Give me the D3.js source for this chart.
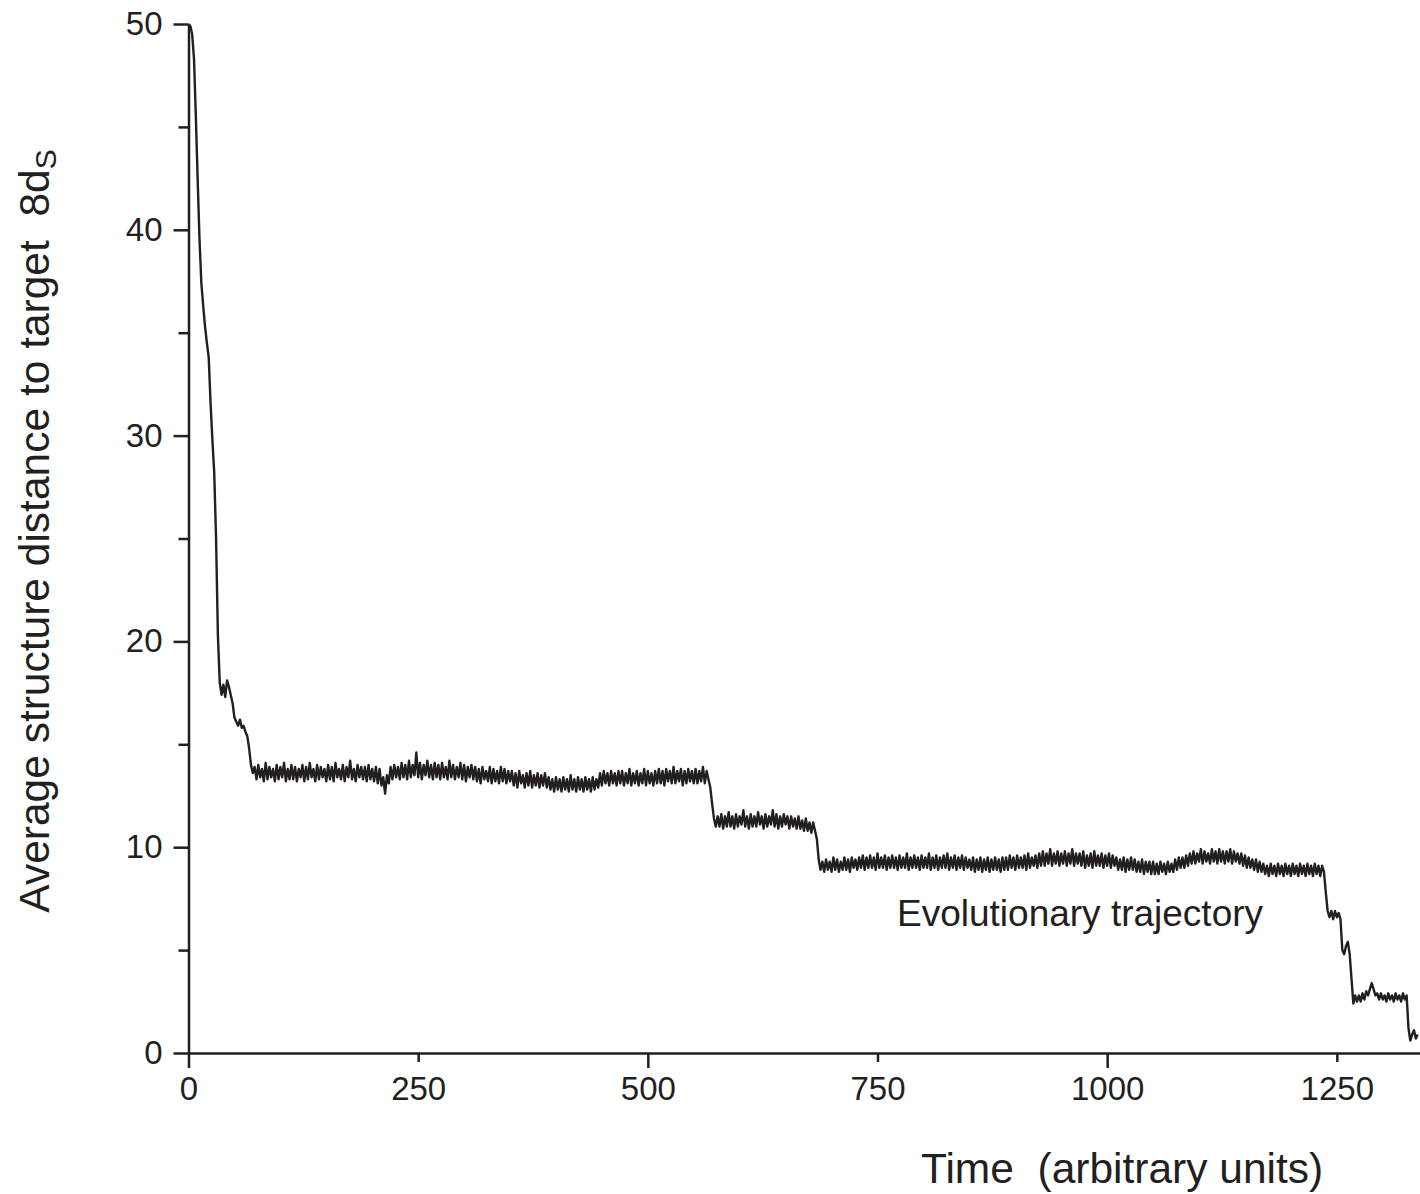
<!DOCTYPE html>
<html>
<head>
<meta charset="utf-8">
<script src="https://cdn.jsdelivr.net/npm/d3@7"></script>
<style>
  body { margin: 0; background: #fff; }
  svg { display: block; font-family: "Liberation Sans", Arial, sans-serif; }
</style>
</head>
<body>
<div id="chart"></div>
<script>
const timeStep = 2;

// t = 0 .. 70
const descent = [50.0,49.9,49.5,48.3,45.5,42.4,39.5,37.4,36.3,35.3,34.5,33.8,31.6,29.8,28.2,25.0,20.3,18.0,17.4,17.9,
  17.3,18.1,17.8,17.4,17.0,16.3,16.1,15.9,16.2,15.8,15.9,15.6,15.4,14.8,14.0,13.6];

// t = 72 .. 574
const plateau13 = [13.9,13.3,14.0,13.4,13.8,13.2,14.1,13.3,13.9,13.4,13.8,13.2,14.0,13.3,13.9,13.4,14.1,13.2,13.8,13.3,
  14.0,13.3,13.9,13.2,13.8,13.4,14.0,13.2,13.9,13.3,14.1,13.4,13.8,13.2,14.0,13.3,13.9,13.4,13.8,13.2,
  14.0,13.3,13.9,13.2,14.1,13.4,13.8,13.3,14.0,13.2,13.9,13.4,14.2,13.3,13.8,13.2,14.0,13.4,13.9,13.3,
  13.9,13.2,14.0,13.3,13.8,13.2,13.9,13.1,13.8,13.0,13.4,12.6,13.5,13.1,13.9,13.3,14.0,13.4,13.9,13.3,
  14.1,13.4,14.0,13.3,14.2,13.4,14.0,13.5,14.6,13.4,14.1,13.3,14.0,13.5,14.2,13.4,14.0,13.3,14.1,13.4,
  14.0,13.3,14.1,13.4,13.9,13.3,14.2,13.4,14.0,13.3,13.9,13.4,14.1,13.3,14.0,13.2,13.9,13.4,14.0,13.3,
  13.9,13.2,13.8,13.1,13.9,13.3,13.7,13.2,13.9,13.1,13.8,13.2,13.7,13.1,13.9,13.2,13.8,13.1,13.7,13.2,
  13.7,13.0,13.6,12.9,13.7,13.1,13.5,12.9,13.6,13.0,13.7,12.9,13.5,13.0,13.6,12.9,13.5,13.0,13.6,12.9,
  13.4,12.8,13.3,12.7,13.4,12.8,13.3,12.7,13.4,12.8,13.3,12.7,13.5,12.8,13.3,12.7,13.4,12.8,13.3,12.7,
  13.4,12.8,13.3,12.7,13.4,12.8,13.3,12.9,13.6,13.0,13.7,13.1,13.6,13.0,13.7,13.1,13.6,13.0,13.7,13.1,
  13.7,13.0,13.6,13.1,13.8,13.0,13.6,13.1,13.7,13.0,13.6,13.1,13.8,13.0,13.7,13.1,13.6,13.0,13.7,13.1,
  13.8,13.1,13.7,13.0,13.8,13.2,13.7,13.1,13.9,13.1,13.7,13.2,13.8,13.0,13.7,13.1,13.8,13.2,13.7,13.1,
  13.8,13.1,13.7,13.2,13.9,13.1,13.7,13.3,12.9,12.1,11.4,11.0];

// t = 576 .. 688
const plateau11 = [11.5,11.0,11.6,10.9,11.5,11.0,11.7,11.0,11.5,10.9,11.6,11.0,11.5,11.1,11.8,11.0,11.5,10.9,11.6,11.0,
  11.5,11.0,11.7,11.1,11.5,10.9,11.6,11.0,11.5,11.1,11.8,11.0,11.6,10.9,11.5,11.0,11.6,11.1,11.5,10.9,
  11.5,11.0,11.4,10.9,11.5,10.9,11.3,10.8,11.4,10.8,11.2,10.7,11.2,10.8,10.4,9.4,8.9];

// t = 690 .. 1236
const plateau9 = [9.3,8.8,9.4,8.9,9.3,8.8,9.5,8.9,9.4,8.8,9.3,8.9,9.5,8.9,9.4,8.8,9.5,9.0,9.4,8.9,
  9.5,9.0,9.6,8.9,9.5,9.0,9.6,9.0,9.5,8.9,9.7,9.0,9.5,9.0,9.6,8.9,9.5,9.0,9.6,9.0,
  9.5,8.9,9.6,9.0,9.5,9.0,9.7,8.9,9.5,9.0,9.6,9.0,9.5,8.9,9.6,9.0,9.5,9.0,9.7,8.9,
  9.5,9.0,9.6,8.9,9.5,9.0,9.6,9.0,9.7,8.9,9.5,9.0,9.6,8.9,9.5,9.0,9.6,8.9,9.5,9.0,
  9.4,8.9,9.5,8.8,9.4,8.9,9.5,8.8,9.4,8.9,9.5,8.8,9.4,8.9,9.5,8.9,9.4,8.8,9.5,8.9,
  9.5,8.9,9.6,9.0,9.5,8.9,9.6,9.0,9.5,9.0,9.6,8.9,9.7,9.0,9.5,9.1,9.6,9.0,9.7,9.1,
  9.8,9.1,9.7,9.2,9.9,9.1,9.7,9.2,9.8,9.1,9.7,9.2,9.8,9.1,9.7,9.2,9.9,9.1,9.7,9.2,
  9.7,9.1,9.8,9.0,9.6,9.1,9.7,9.0,9.8,9.1,9.6,9.1,9.7,9.0,9.6,9.1,9.7,9.0,9.6,9.1,
  9.5,8.9,9.4,8.9,9.5,8.8,9.4,8.9,9.5,8.9,9.4,8.8,9.3,8.8,9.4,8.7,9.3,8.8,9.3,8.7,
  9.3,8.7,9.2,8.7,9.3,8.8,9.2,8.7,9.3,8.8,9.2,8.8,9.4,8.9,9.5,9.0,9.5,9.0,9.6,9.1,
  9.7,9.2,9.8,9.2,9.7,9.3,9.9,9.2,9.8,9.3,9.7,9.2,9.9,9.3,9.8,9.2,9.9,9.3,9.8,9.2,
  9.8,9.3,9.9,9.2,9.8,9.3,9.7,9.2,9.7,9.1,9.6,9.0,9.5,9.0,9.4,8.9,9.4,8.8,9.3,8.8,
  9.2,8.7,9.1,8.6,9.2,8.7,9.1,8.6,9.2,8.7,9.1,8.6,9.2,8.7,9.1,8.6,9.2,8.7,9.1,8.6,
  9.2,8.7,9.1,8.6,9.2,8.7,9.1,8.6,9.2,8.7,9.1,8.6,9.1,8.8];

// t = 1238 .. 1338
const finalSteps = [7.8,6.9,6.6,6.9,6.5,6.9,6.6,6.8,6.5,5.0,4.8,5.2,5.4,4.8,3.6,2.4,2.8,2.5,2.8,2.5,
  2.9,2.6,3.0,2.8,3.1,3.4,3.1,2.8,2.9,2.6,2.9,2.6,2.8,2.5,2.9,2.6,2.8,2.5,2.9,2.6,
  2.8,2.5,2.9,2.6,2.8,1.2,0.6,0.9,1.1,0.7,0.9];

const xMajor = [0, 500, 1000];
const xMinor = [250, 750, 1250];
const yMajor = [0, 10, 20, 30, 40, 50];
const yMinor = [5, 15, 25, 35, 45];

const ink = "#231f20";
const width = 1420, height = 1194;

const series = [].concat(descent, plateau13, plateau11, plateau9, finalSteps)
  .map((v, i) => ({ t: i * timeStep, v: v }));

const svg = d3.select("#chart").append("svg")
  .attr("width", width)
  .attr("height", height);

const x = d3.scaleLinear().domain([0, 1340]).range([188.5, 1419.5]);
const y = d3.scaleLinear().domain([0, 50]).range([1053, 24]);
const fmt = d3.format("d");

function styleAxis(g) {
  g.select(".domain").attr("stroke", ink).attr("stroke-width", 2.5);
  g.selectAll(".tick line").attr("stroke", ink).attr("stroke-width", 2.5);
  g.selectAll("text").attr("fill", ink).attr("font-family", "Liberation Sans, Arial, sans-serif");
}

// x axis
svg.append("g")
  .attr("transform", `translate(0,${y(0)})`)
  .call(d3.axisBottom(x).tickValues(xMajor).tickFormat(fmt).tickSize(15).tickSizeOuter(0))
  .call(styleAxis)
  .call(g => g.selectAll("text").attr("font-size", 33).attr("y", 24));

svg.append("g")
  .attr("transform", `translate(0,${y(0)})`)
  .call(d3.axisBottom(x).tickValues(xMinor).tickFormat(fmt).tickSize(9).tickSizeOuter(0))
  .call(styleAxis)
  .call(g => g.select(".domain").remove())
  .call(g => g.selectAll("text").attr("font-size", 33).attr("y", 24));

// y axis
svg.append("g")
  .attr("transform", `translate(${x(0)},0)`)
  .call(d3.axisLeft(y).tickValues(yMajor).tickFormat(fmt).tickSize(15).tickPadding(11).tickSizeOuter(0))
  .call(styleAxis)
  .call(g => g.selectAll("text").attr("font-size", 33));

svg.append("g")
  .attr("transform", `translate(${x(0)},0)`)
  .call(d3.axisLeft(y).tickValues(yMinor).tickSize(10).tickFormat("").tickSizeOuter(0))
  .call(styleAxis)
  .call(g => g.select(".domain").remove());

// trajectory
const line = d3.line()
  .x(d => x(d.t))
  .y(d => y(d.v));

svg.append("path")
  .datum(series)
  .attr("fill", "none")
  .attr("stroke", ink)
  .attr("stroke-width", 2.4)
  .attr("stroke-linejoin", "round")
  .attr("d", line);

// labels
svg.append("text")
  .attr("x", 897)
  .attr("y", 926)
  .attr("font-size", 37)
  .attr("fill", ink)
  .text("Evolutionary trajectory");

svg.append("text")
  .attr("x", 921)
  .attr("y", 1183)
  .attr("font-size", 42.5)
  .attr("fill", ink)
  .style("white-space", "pre")
  .text("Time  (arbitrary units)");

const yTitle = svg.append("text")
  .attr("transform", "translate(49,531) rotate(-90)")
  .attr("text-anchor", "middle")
  .attr("font-size", 42.5)
  .attr("fill", ink)
  .style("white-space", "pre");
yTitle.append("tspan").text("Average structure distance to target  8d");
yTitle.append("tspan").attr("font-size", 30).attr("dy", 7).text("S");
</script>
</body>
</html>
